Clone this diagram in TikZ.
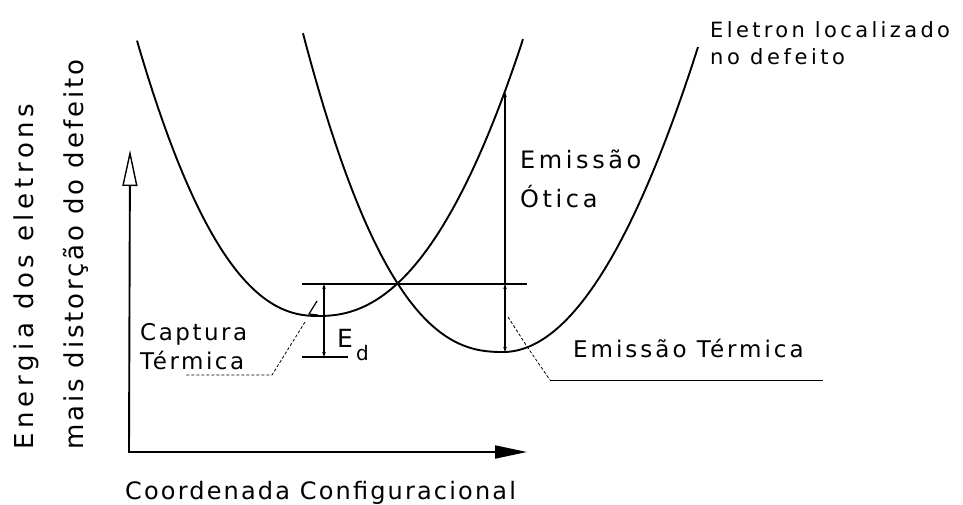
\documentclass[tikz,border=0pt]{standalone}
\usepackage{fontspec}
\setmainfont{DejaVu Sans}
\usetikzlibrary{arrows.meta}
\newcommand{\lsf}[2]{\fontsize{#1}{#1}\selectfont\addfontfeatures{LetterSpace=#2}}
\begin{document}
\begin{tikzpicture}[x=1pt,y=-1pt,
  curve/.style={line width=1.9pt},
  axisline/.style={line width=1.9pt},
  thin/.style={line width=1.2pt},
  leader/.style={line width=0.8pt, dash pattern=on 3pt off 2pt},
  lab/.style={inner sep=0pt, anchor=base west},
  tip/.style={-{Stealth[length=5pt,width=3.5pt]}},
  dtip/.style={{Stealth[length=5pt,width=3.5pt]}-{Stealth[length=5pt,width=3.5pt]}}]
\useasboundingbox (0,0) rectangle (963,504);
% axes
\coordinate (ytop) at (130,150);
\coordinate (org) at (129,452);
\coordinate (xend) at (527,452);
\draw[axisline, {Triangle[open,length=36pt,width=15pt,line width=1.4pt]}-{Triangle[length=32pt,width=13pt]}] (ytop) -- (org) -- (xend);
% parabola 1 (left well)
\draw[curve] plot[domain=181:0.5, samples=70] ({318-\x},{316-72.06*pow(\x/100,2.26)})
  -- plot[domain=0.5:205, samples=80] ({318+\x},{316-54.66*pow(\x/100,2.26)});
% parabola 2 (right well)
\draw[curve] plot[domain=200:0.5, samples=80] ({503-\x},{352-60.4*pow(\x/100,2.4)})
  -- plot[domain=0.5:195, samples=80] ({503+\x},{352-80.2*pow(\x/100,2)});
% level lines
\coordinate (hl) at (302,284);
\coordinate (hr) at (527,284);
\draw[thin] (hl) -- (hr);
\coordinate (bl) at (302,357);
\coordinate (br) at (348,357);
\draw[thin] (bl) -- (br);
% E_d arrow
\coordinate (edt) at (324,284);
\coordinate (edb) at (324,357);
\draw[thin, dtip] (edt) -- (edb);
% optical and thermal emission arrows
\coordinate (opt) at (505,92);
\coordinate (opm) at (505,284);
\coordinate (opb) at (505,352);
\draw[thin, tip] (opm) -- (opt);
\draw[thin, dtip] (opm) -- (opb);
% labels
\node[lab, font=\lsf{21}{16}] (eletron) at (710,37) {Eletron localizado};
\node[lab, font=\lsf{21}{17}] (nodef) at (710,64) {no defeito};
\node[lab, font=\lsf{24}{15}] (emis) at (520,168) {Emissão};
\node[lab, font=\lsf{24}{15}] (otica) at (520,207) {Ótica};
\node[lab, font=\lsf{23}{13}] (emter) at (573,357) {Emissão Térmica};
\node[lab, font=\lsf{23}{11}] (capt) at (140,340) {Captura};
\node[lab, font=\lsf{23}{11}] (term) at (140,369) {Térmica};
\node[lab, font=\lsf{25}{0}] (E) at (337,347) {E};
\node[lab, font=\lsf{20}{0}] (d) at (356,360) {d};
\node[lab, font=\lsf{24}{9}] (xlab) at (125,499) {Coordenada Configuracional};
\node[lab, rotate=90, font=\lsf{26}{18}] (ylab1) at (33,450) {Energia dos eletrons};
\node[lab, rotate=90, font=\lsf{26}{11}] (ylab2) at (83,450) {mais distorção do defeito};
% leaders
\coordinate (c1) at (305,322);
\coordinate (c2) at (272,375);
\coordinate (c3) at (185,375);
\draw[thin] (317,301) -- (309,314) -- (318,315);
\draw[leader] (c1) -- (c2) -- (c3);
\coordinate (t1) at (508,317);
\coordinate (t2) at (528,348);
\coordinate (t3) at (550,380);
\coordinate (t4) at (823,380);
\draw[leader] (t1) -- (t2) -- (t3);
\draw[line width=0.9pt] (t3) -- (t4);
\end{tikzpicture}
\end{document}
